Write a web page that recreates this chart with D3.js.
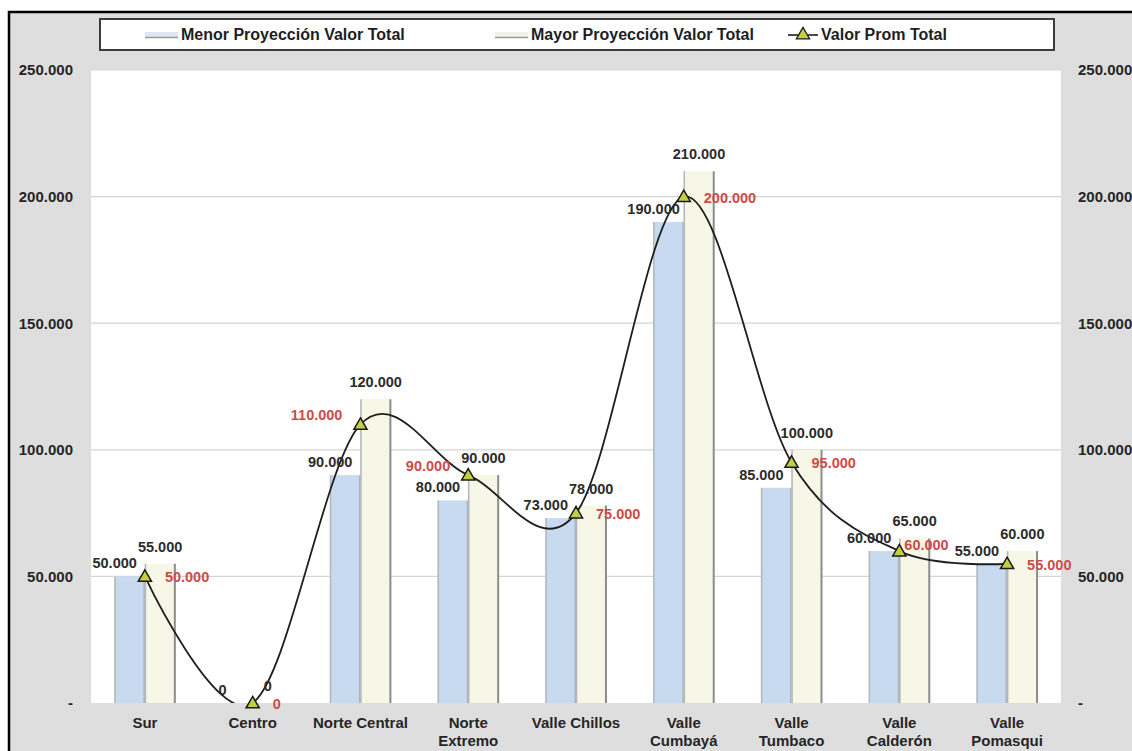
<!DOCTYPE html>
<html>
<head>
<meta charset="utf-8">
<script src="https://cdn.jsdelivr.net/npm/d3@7"></script>
<style>
  html, body { margin: 0; padding: 0; background: #ffffff; }
  svg { display: block; font-family: "Liberation Sans", Arial, sans-serif; }
</style>
</head>
<body>
<svg id="chart" width="1132" height="751"></svg>
<script>
// Sectores (nombre del eje; "\n" separa las líneas de la etiqueta)
const categories = ["Sur", "Centro", "Norte Central", "Norte\nExtremo", "Valle Chillos",
                    "Valle\nCumbayá", "Valle\nTumbaco", "Valle\nCalderón", "Valle\nPomasqui"];
const menorValues = [50000, 0, 90000, 80000, 73000, 190000, 85000, 60000, 55000];
const mayorValues = [55000, 0, 120000, 90000, 78000, 210000, 100000, 65000, 60000];
const promValues  = [50000, 0, 110000, 90000, 75000, 200000, 95000, 60000, 55000];
const yTicks = [0, 50000, 100000, 150000, 200000, 250000];
const seriesNames = ["Menor Proyección Valor Total", "Mayor Proyección Valor Total", "Valor Prom Total"];
// lado en que va la etiqueta del promedio
const promLabelSide = ["right", "right", "left", "left", "right", "right", "right", "near", "right"];

const svg = d3.select("#chart");
const W = 1132, H = 751;
const plot = { left: 91, right: 1061, top: 70, bottom: 703 };

const locale = d3.formatLocale({ decimal: ",", thousands: ".", grouping: [3], currency: ["$", ""] });
const fmt = locale.format(",.0f");
const tickFmt = v => v === 0 ? "-" : fmt(v);

// marco exterior
svg.append("rect").attr("x", 9).attr("y", 12).attr("width", W).attr("height", H)
  .attr("fill", "#dedede").attr("stroke", "#000").attr("stroke-width", 2.5);

const x = d3.scaleBand().domain(d3.range(categories.length)).range([plot.left, plot.right]).padding(0);
const inner = d3.scaleBand().domain(["menor", "mayor"]).range([0, x.bandwidth()])
  .paddingInner(0).paddingOuter(0.77);
const y = d3.scaleLinear().domain([0, 250000]).range([plot.bottom, plot.top]);

// área de trazado
svg.append("rect").attr("x", plot.left).attr("y", plot.top)
  .attr("width", plot.right - plot.left).attr("height", plot.bottom - plot.top).attr("fill", "#ffffff");

// líneas de división
svg.append("g").selectAll("line").data(yTicks.filter(t => t > 0)).join("line")
  .attr("x1", plot.left).attr("x2", plot.right)
  .attr("y1", d => y(d)).attr("y2", d => y(d))
  .attr("stroke", "#d4d4d4").attr("stroke-width", 1.2);

// ejes verticales
const styleAxis = g => {
  g.select(".domain").remove();
  g.selectAll(".tick line").remove();
  g.selectAll(".tick text").attr("font-size", 15).attr("font-weight", "bold").attr("fill", "#262626")
    .attr("font-family", "Liberation Sans, Arial, sans-serif");
};
svg.append("g").attr("transform", `translate(${plot.left},0)`)
  .call(d3.axisLeft(y).tickValues(yTicks).tickFormat(tickFmt).tickSize(0).tickPadding(18))
  .call(styleAxis);
svg.append("g").attr("transform", `translate(${plot.right},0)`)
  .call(d3.axisRight(y).tickValues(yTicks).tickFormat(tickFmt).tickSize(0).tickPadding(17))
  .call(styleAxis);

// barras
const barSeries = [
  { key: "menor", values: menorValues, fill: "#c8daef", edge: "#a9b3bf" },
  { key: "mayor", values: mayorValues, fill: "#f6f7e6", edge: "#8c8c8c" }
];
barSeries.forEach(s => {
  const g = svg.append("g");
  const bx = i => x(i) + inner(s.key);
  g.selectAll("rect").data(s.values).join("rect")
    .attr("x", (d, i) => bx(i)).attr("y", d => y(d))
    .attr("width", inner.bandwidth()).attr("height", d => y(0) - y(d))
    .attr("fill", s.fill);
  g.selectAll("line.l").data(s.values).join("line").attr("class", "l")
    .attr("x1", (d, i) => bx(i) + 0.5).attr("x2", (d, i) => bx(i) + 0.5)
    .attr("y1", d => y(d)).attr("y2", y(0))
    .attr("stroke", "#b4b8bd").attr("stroke-width", 1.6);
  g.selectAll("line.r").data(s.values).join("line").attr("class", "r")
    .attr("x1", (d, i) => bx(i) + inner.bandwidth() - 0.5).attr("x2", (d, i) => bx(i) + inner.bandwidth() - 0.5)
    .attr("y1", d => y(d)).attr("y2", y(0))
    .attr("stroke", s.edge).attr("stroke-width", 2);
});

// línea suavizada del promedio
svg.append("clipPath").attr("id", "plotClip").append("rect")
  .attr("x", plot.left).attr("y", plot.top).attr("width", plot.right - plot.left).attr("height", plot.bottom - plot.top);
const cx = i => x(i) + x.bandwidth() / 2;
const line = d3.line().x((d, i) => cx(i)).y(d => y(d)).curve(d3.curveCardinal.tension(0));
svg.append("path").datum(promValues).attr("d", line)
  .attr("clip-path", "url(#plotClip)")
  .attr("fill", "none").attr("stroke", "#1e1e1e").attr("stroke-width", 1.8);

const tri = d3.symbol().type(d3.symbolTriangle).size(75);
svg.append("g").selectAll("path").data(promValues).join("path")
  .attr("d", tri).attr("transform", (d, i) => `translate(${cx(i)},${y(d) + 1})`)
  .attr("fill", "#c3cf3f").attr("stroke", "#1a1a1a").attr("stroke-width", 1.5);

// etiquetas de datos
const lab = svg.append("g").attr("font-size", 14.5).attr("font-weight", "bold");
lab.selectAll("text.menor").data(menorValues).join("text").attr("class", "menor")
  .attr("x", (d, i) => x(i) + inner("menor") + inner.bandwidth() / 2 - 15)
  .attr("y", d => y(d) - 8).attr("text-anchor", "middle").attr("fill", "#2b2b2b")
  .text(d => fmt(d));
lab.selectAll("text.mayor").data(mayorValues).join("text").attr("class", "mayor")
  .attr("x", (d, i) => x(i) + inner("mayor") + inner.bandwidth() / 2)
  .attr("y", d => y(d) - 12).attr("text-anchor", "middle").attr("fill", "#2b2b2b")
  .text(d => fmt(d));
lab.selectAll("text.prom").data(promValues).join("text").attr("class", "prom")
  .attr("x", (d, i) => promLabelSide[i] === "left" ? cx(i) - 18 : promLabelSide[i] === "near" ? cx(i) + 5 : cx(i) + 20)
  .attr("y", (d, i) => promLabelSide[i] === "left" ? y(d) - 4 : promLabelSide[i] === "near" ? y(d) - 1 : y(d) + 6)
  .attr("text-anchor", (d, i) => promLabelSide[i] === "left" ? "end" : "start")
  .attr("fill", "#cf4a48")
  .text(d => fmt(d));

// etiquetas de categoría
const catG = svg.append("g").attr("font-size", 15).attr("font-weight", "bold").attr("fill", "#262626");
categories.forEach((c, i) => {
  const t = catG.append("text").attr("x", cx(i)).attr("y", plot.bottom + 25).attr("text-anchor", "middle");
  c.split("\n").forEach((ln, k) => t.append("tspan").attr("x", cx(i)).attr("dy", k === 0 ? 0 : 18).text(ln));
});

// leyenda
const leg = svg.append("g");
leg.append("rect").attr("x", 100).attr("y", 19).attr("width", 954).attr("height", 31)
  .attr("fill", "#ffffff").attr("stroke", "#3c3c3c").attr("stroke-width", 2);
const legItems = [
  { x: 145, fill: "#dde6f1" },
  { x: 495, fill: "#f1f2e6" }
];
legItems.forEach((it, k) => {
  leg.append("rect").attr("x", it.x).attr("y", 32).attr("width", 33).attr("height", 5).attr("fill", it.fill);
  leg.append("line").attr("x1", it.x).attr("x2", it.x + 33).attr("y1", 37.5).attr("y2", 37.5)
    .attr("stroke", "#9a9a9a").attr("stroke-width", 1.5);
  leg.append("text").attr("x", it.x + 36).attr("y", 40).attr("font-size", 16).attr("font-weight", "bold")
    .attr("fill", "#1e1e1e").text(seriesNames[k]);
});
leg.append("line").attr("x1", 788).attr("x2", 818).attr("y1", 35).attr("y2", 35)
  .attr("stroke", "#1e1e1e").attr("stroke-width", 1.6);
leg.append("path").attr("d", tri).attr("transform", "translate(803,35)")
  .attr("fill", "#c3cf3f").attr("stroke", "#1a1a1a").attr("stroke-width", 1.3);
leg.append("text").attr("x", 821).attr("y", 40).attr("font-size", 16).attr("font-weight", "bold")
  .attr("fill", "#1e1e1e").text(seriesNames[2]);
</script>
</body>
</html>
